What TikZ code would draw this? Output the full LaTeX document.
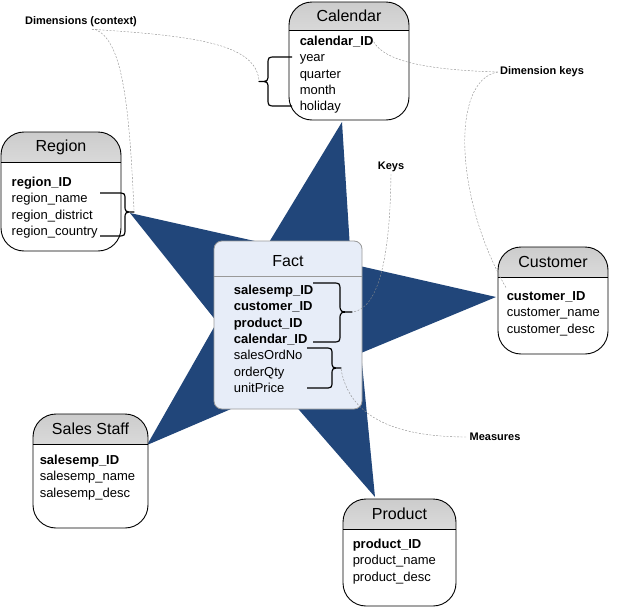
\documentclass[tikz,border=0pt]{standalone}
\usepackage{fontspec}
\setmainfont{Liberation Sans}
\definecolor{starblue}{RGB}{33,70,122}
\definecolor{factfill}{RGB}{231,237,248}

\begin{document}
\begin{tikzpicture}[x=1pt,y=-1pt]
\tikzset{dimtable/.style={draw, fill=white, line width=0.9pt, rounded corners=23pt, path picture={\fill[sharp corners, top color=black!20, bottom color=white] (path picture bounding box.north west) rectangle ([yshift=-#1]path picture bounding box.north east); \draw[sharp corners, line width=0.9pt] ([yshift=-#1]path picture bounding box.north west) -- ([yshift=-#1]path picture bounding box.north east);}}}
\tikzset{facttable/.style={draw=black!40, fill=factfill, line width=0.8pt, rounded corners=8pt, path picture={\draw[sharp corners, black!40, line width=0.8pt] ([yshift=-35pt]path picture bounding box.north west) -- ([yshift=-35pt]path picture bounding box.north east);}}}
\tikzset{title/.style={inner sep=0pt, font=\fontsize{16}{19}\selectfont}}
\tikzset{field/.style={anchor=north west, inner sep=0pt, text height=11.5pt, text depth=4.5pt, font=\fontsize{13}{16}\selectfont}}
\tikzset{keyfield/.style={field, font=\bfseries\fontsize{13}{16}\selectfont}}
\tikzset{note/.style={inner sep=2pt, font=\bfseries\fontsize{11}{13}\selectfont}}
\tikzset{leader/.style={draw=black!45, line width=0.4pt, dash pattern=on 2pt off 1.5pt}}
\tikzset{curly/.style={line width=1.2pt, line join=round}}
\useasboundingbox (0,0) rectangle (641,608);
% star behind the tables
\fill[starblue] (342,122) -- (351,264) -- (496,297) -- (361,353) -- (375,497) -- (280,388) -- (147,445) -- (217,322) -- (130,213) -- (268,244) -- cycle;
% Calendar
\node[dimtable=28pt, minimum width=120pt, minimum height=118pt] (calendar) at (349,61) {};
\node[title] (calendar-title) at ([yshift=-14pt]calendar.north) {Calendar};
\node[keyfield] (cal-id) at ([shift={(11pt,-32pt)}]calendar.north west) {calendar\_ID};
\node[field] (cal-year) at (cal-id.south west) {year};
\node[field] (cal-quarter) at (cal-year.south west) {quarter};
\node[field] (cal-month) at (cal-quarter.south west) {month};
\node[field] (cal-holiday) at (cal-month.south west) {holiday};
% Region
\node[dimtable=30pt, minimum width=120pt, minimum height=119pt] (region) at (61,191.5) {};
\node[title] (region-title) at ([yshift=-16pt]region.north) {Region};
\node[keyfield] (reg-id) at ([shift={(11pt,-43pt)}]region.north west) {region\_ID};
\node[field] (reg-name) at (reg-id.south west) {region\_name};
\node[field] (reg-district) at (reg-name.south west) {region\_district};
\node[field] (reg-country) at (reg-district.south west) {region\_country};
% Customer
\node[dimtable=30pt, minimum width=110pt, minimum height=107pt] (customer) at (553,300.5) {};
\node[title] (customer-title) at ([yshift=-15pt]customer.north) {Customer};
\node[keyfield] (cust-id) at ([shift={(9pt,-42pt)}]customer.north west) {customer\_ID};
\node[field] (cust-name) at (cust-id.south west) {customer\_name};
\node[field] (cust-desc) at (cust-name.south west) {customer\_desc};
% Sales Staff
\node[dimtable=30pt, minimum width=115pt, minimum height=114pt] (salesstaff) at (90.5,471) {};
\node[title] (salesstaff-title) at ([yshift=-15pt]salesstaff.north) {Sales Staff};
\node[keyfield] (emp-id) at ([shift={(7pt,-39pt)}]salesstaff.north west) {salesemp\_ID};
\node[field] (emp-name) at (emp-id.south west) {salesemp\_name};
\node[field] (emp-desc) at (emp-name.south west) {salesemp\_desc};
% Product
\node[dimtable=30pt, minimum width=113pt, minimum height=107pt] (product) at (399.5,552.5) {};
\node[title] (product-title) at ([yshift=-15pt]product.north) {Product};
\node[keyfield] (prod-id) at ([shift={(10pt,-38pt)}]product.north west) {product\_ID};
\node[field] (prod-name) at (prod-id.south west) {product\_name};
\node[field] (prod-desc) at (prod-name.south west) {product\_desc};
% Fact
\node[facttable, minimum width=148pt, minimum height=168pt] (fact) at (288,325) {};
\node[title] (fact-title) at ([yshift=-20pt]fact.north) {Fact};
\node[keyfield] (f-emp) at ([shift={(20pt,-42pt)}]fact.north west) {salesemp\_ID};
\node[keyfield] (f-cust) at (f-emp.south west) {customer\_ID};
\node[keyfield] (f-prod) at (f-cust.south west) {product\_ID};
\node[keyfield] (f-cal) at (f-prod.south west) {calendar\_ID};
\node[field] (f-ordno) at (f-cal.south west) {salesOrdNo};
\node[field] (f-qty) at (f-ordno.south west) {orderQty};
\node[field] (f-price) at (f-qty.south west) {unitPrice};
% braces
\draw[curly] (292,57) -- (276,57) .. controls (268,57) .. (268,65) -- (268,74) .. controls (268,81.5) .. (259,81.5) .. controls (268,81.5) .. (268,89) -- (268,98) .. controls (268,106) .. (276,106) -- (292,106);
\draw[curly] (100,193) -- (117,193) .. controls (125,193) .. (125,200) -- (125,205) .. controls (125,212) .. (134,212) .. controls (125,212) .. (125,219) -- (125,228) .. controls (125,236) .. (117,236) -- (100,236);
\draw[curly] (313,283) -- (332,283) .. controls (340,283) .. (340,291) -- (340,304) .. controls (340,312) .. (352,312) .. controls (340,312) .. (340,320) -- (340,334) .. controls (340,342) .. (332,342) -- (313,342);
\draw[curly] (307,348) -- (324,348) .. controls (332,348) .. (332,355) -- (332,361) .. controls (332,368) .. (341,368) .. controls (332,368) .. (332,375) -- (332,381) .. controls (332,388) .. (324,388) -- (307,388);
\coordinate (cal-tip) at (259,80);
\coordinate (reg-tip) at (134,210);
\coordinate (keys-tip) at (353,312);
\coordinate (meas-tip) at (341,369);
% labels
\node[note] (dimctx) at (81,22) {Dimensions (context)};
\node[note] (dimkeys) at (542,72) {Dimension keys};
\node[note] (keys) at (391,167) {Keys};
\node[note] (measures) at (495,437) {Measures};
% leaders
\draw[leader] ([xshift=11pt]dimctx.south) .. controls (200,36) and (255,45) .. (cal-tip);
\draw[leader] ([xshift=14pt]dimctx.south) .. controls (122,40) and (129,100) .. (reg-tip);
\draw[leader] (cal-id.east) .. controls (385,62) and (430,70) .. (dimkeys.west);
\draw[leader] (dimkeys.west) .. controls (450,80) and (455,200) .. (cust-id.north west);
\draw[leader] (keys.south) .. controls (390,260) and (378,308) .. (keys-tip);
\draw[leader] (meas-tip) .. controls (350,420) and (400,437) .. (measures.west);
\end{tikzpicture}
\end{document}
